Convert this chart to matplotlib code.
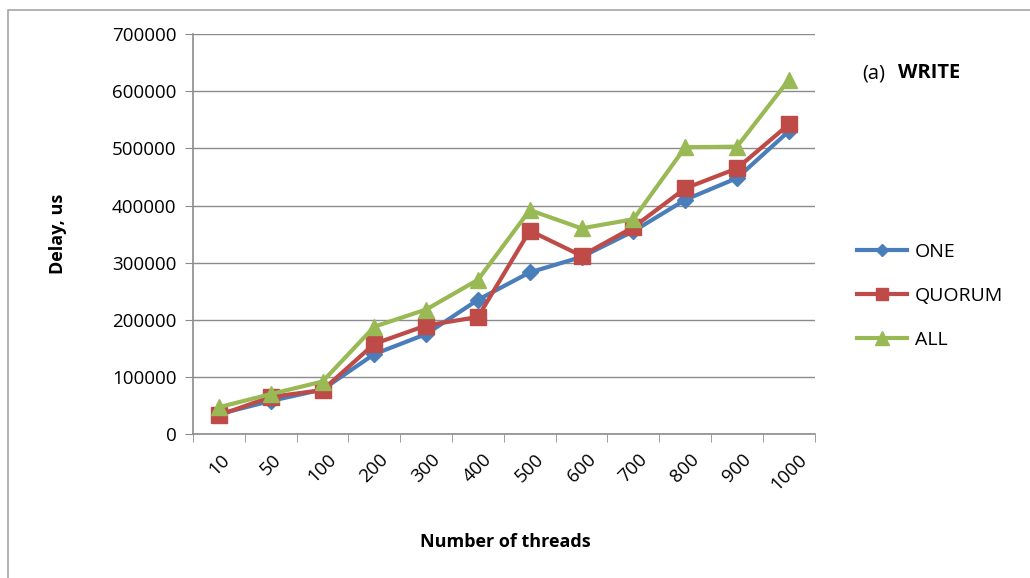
import matplotlib.pyplot as plt
import matplotlib.patches as patches
import numpy as np

plt.rcParams['font.family'] = ['Open Sans', 'DejaVu Sans']

threads = ['10', '50', '100', '200', '300', '400', '500', '600', '700', '800', '900', '1000']
delay_one = [35000, 58000, 78000, 140000, 175000, 235000, 283000, 310000, 355000, 410000, 448000, 530000]
delay_quorum = [33000, 65000, 77000, 158000, 190000, 205000, 356000, 312000, 362000, 430000, 465000, 542000]
delay_all = [47000, 70000, 92000, 188000, 218000, 270000, 392000, 360000, 376000, 502000, 503000, 620000]

fig = plt.figure(figsize=(10.3, 5.78), dpi=100)
ax = fig.add_axes([0.1874, 0.249, 0.6036, 0.692])

# outer chart frame
frame = patches.Rectangle((8 / 1030, -0.05), 1.2, 1 - 10 / 578 + 0.05, transform=fig.transFigure,
                          fill=False, edgecolor='#a6a6a6', linewidth=1.2)
fig.patches.append(frame)

x = np.arange(len(threads))
ax.plot(x, delay_one, color='#4a7ebb', linewidth=3, marker='D', markersize=8, label='ONE', zorder=3)
ax.plot(x, delay_quorum, color='#be4b48', linewidth=3, marker='s', markersize=11, label='QUORUM', zorder=4)
ax.plot(x, delay_all, color='#98b954', linewidth=3, marker='^', markersize=12, label='ALL', zorder=5)

ax.set_xlim(-0.5, len(threads) - 0.5)
ax.set_ylim(0, 700000)
ax.set_yticks(np.arange(0, 700001, 100000))
ax.set_yticklabels([str(v) for v in range(0, 700001, 100000)], fontsize=13.5)
ax.yaxis.grid(True, color='#8c8c8c', linewidth=1)
ax.set_axisbelow(True)

ax.set_xticks(x)
ax.set_xticklabels(threads, rotation=45, fontsize=13.5, ha='center', va='top')
ax.tick_params(axis='x', length=0, pad=12)
ax.set_xticks(np.arange(-0.5, len(threads)), minor=True)
ax.tick_params(axis='x', which='minor', length=6, color='#8c8c8c')
ax.tick_params(axis='y', length=6, color='#8c8c8c', pad=6)

for side in ['top', 'right']:
    ax.spines[side].set_visible(False)
for side in ['left', 'bottom']:
    ax.spines[side].set_color('#8c8c8c')
    ax.spines[side].set_linewidth(1.2)

fig.text(505 / 1030, 1 - 542 / 578, 'Number of threads', ha='center', va='center',
         fontsize=13, fontweight='bold')
fig.text(58 / 1030, 1 - 234 / 578, 'Delay, us', ha='center', va='center',
         fontsize=13, fontweight='bold', rotation=90)

fig.text(862 / 1030, 1 - 73 / 578, '(a)', ha='left', va='center', fontsize=14.5)
fig.text(898 / 1030, 1 - 73 / 578, 'WRITE', ha='left', va='center', fontsize=14.5, fontweight='bold')

ax.legend(loc='center left', bbox_to_anchor=(839 / 1030, 1 - 296 / 578), bbox_transform=fig.transFigure,
          frameon=False, fontsize=14, handlelength=2.6, labelspacing=1.35, markerscale=0.8,
          handletextpad=0.4)

fig.savefig('out.png', dpi=100)
